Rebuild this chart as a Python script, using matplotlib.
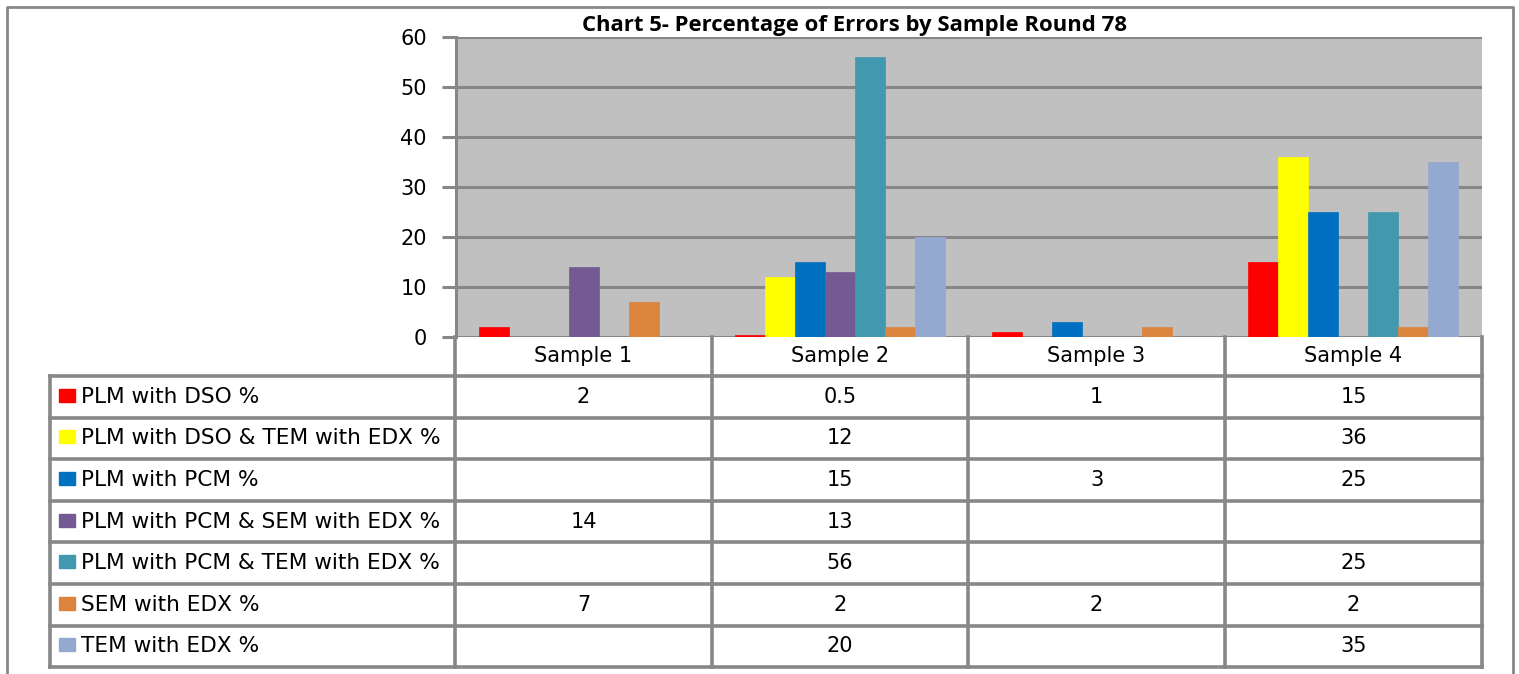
import matplotlib
matplotlib.use('Agg')
import matplotlib.pyplot as plt
from matplotlib.patches import Rectangle

plt.rcParams['font.family'] = ['DejaVu Sans']

# data
samples = ['Sample 1', 'Sample 2', 'Sample 3', 'Sample 4']
series = ['PLM with DSO %', 'PLM with DSO & TEM with EDX %', 'PLM with PCM %',
          'PLM with PCM & SEM with EDX %', 'PLM with PCM & TEM with EDX %',
          'SEM with EDX %', 'TEM with EDX %']
plm_dso = [2, 0.5, 1, 15]
plm_dso_tem = [None, 12, None, 36]
plm_pcm = [None, 15, 3, 25]
plm_pcm_sem = [14, 13, None, None]
plm_pcm_tem = [None, 56, None, 25]
sem_edx = [7, 2, 2, 2]
tem_edx = [None, 20, None, 35]
values = [plm_dso, plm_dso_tem, plm_pcm, plm_pcm_sem, plm_pcm_tem, sem_edx, tem_edx]
colors = ['#FF0000', '#FFFF00', '#0070C0', '#735A92', '#4198AF', '#DB843D', '#93A9CF']
title = 'Chart 5- Percentage of Errors by Sample Round 78'

W, H = 1519, 674
grey = '#878787'
fs = 15
fig = plt.figure(figsize=(W / 100, H / 100), dpi=100)

# plot area in pixel coords
x0, x1, ytop, yzero = 456, 1482, 37, 337
ax = fig.add_axes([x0 / W, 1 - yzero / H, (x1 - x0) / W, (yzero - ytop) / H])
ax.set_facecolor('#C0C0C0')
ax.set_xlim(0, 4)
ax.set_ylim(0, 60)
ax.set_yticks(range(0, 61, 10))
ax.yaxis.grid(True, color=grey, lw=2.2)
ax.set_axisbelow(True)
ax.set_xticks([])
for s in ['top', 'right', 'bottom']:
    ax.spines[s].set_visible(False)
ax.spines['left'].set_color(grey)
ax.spines['left'].set_linewidth(2.2)
ax.tick_params(axis='y', length=10, width=2.2, color=grey, labelsize=fs, pad=11)

bw = 30 / 257
off = 23 / 257
for i, (vals, c) in enumerate(zip(values, colors)):
    for g, v in enumerate(vals):
        if v is None:
            continue
        ax.bar(g + off + bw * (i + 0.5), v, width=bw, color=c, edgecolor=c, lw=0.5)

fig.text(855 / W, 1 - 26 / H, title, ha='center', va='center', fontsize=15.9,
         fontweight='bold', family=['Open Sans', 'DejaVu Sans'])

# table + frame on an overlay in pixel space
ov = fig.add_axes([0, 0, 1, 1])
ov.set_xlim(0, W)
ov.set_ylim(H, 0)
ov.axis('off')
ov.patch.set_alpha(0)

# outer chart border
ov.plot([7, 7, 1513, 1513], [H, 7, 7, H], color=grey, lw=2)

cols = [455, 712, 968, 1225, 1482]
rows = [376 + 41.6 * k for k in range(8)]
lw = 2.6
for cx in cols:
    ov.plot([cx, cx], [yzero, rows[-1]], color=grey, lw=lw)
ov.plot([50, 50], [rows[0], rows[-1]], color=grey, lw=lw)
for ry in rows:
    ov.plot([50, cols[-1]], [ry, ry], color=grey, lw=lw)

for g, name in enumerate(samples):
    ov.text((cols[g] + cols[g + 1]) / 2, (yzero + rows[0]) / 2, name,
            ha='center', va='center', fontsize=fs)

for i, (name, vals, c) in enumerate(zip(series, values, colors)):
    yc = (rows[i] + rows[i + 1]) / 2
    ov.add_patch(Rectangle((59, yc - 8), 16, 13, color=c))
    ov.text(81, yc, name, ha='left', va='center', fontsize=15.6)
    for g, v in enumerate(vals):
        if v is None:
            continue
        ov.text((cols[g] + cols[g + 1]) / 2, yc, f'{v:g}', ha='center', va='center', fontsize=fs)

fig.savefig('out.png', dpi=100)
